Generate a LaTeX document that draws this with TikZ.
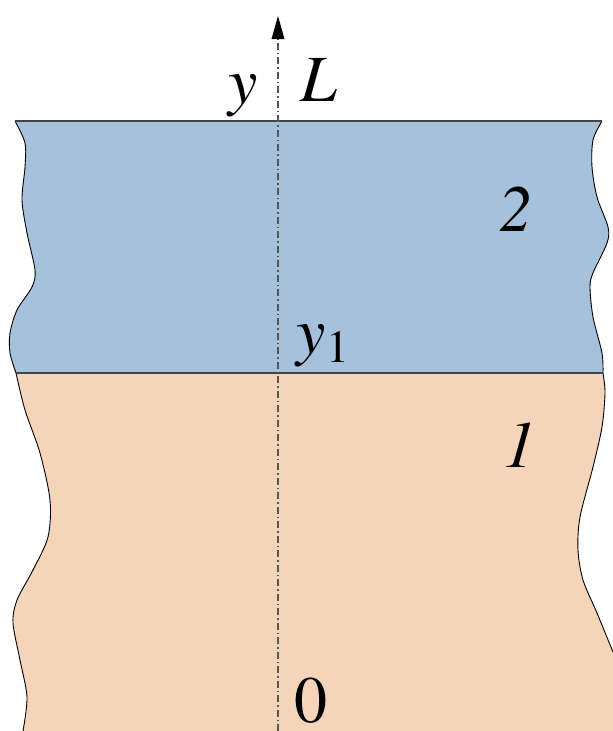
\documentclass[tikz,border=0pt]{standalone}
\usepackage{fontspec}
\setmainfont{texgyretermes}[Extension=.otf, UprightFont=*-regular, ItalicFont=*-italic, BoldFont=*-bold, BoldItalicFont=*-bolditalic]
\usetikzlibrary{arrows.meta}
\definecolor{layerblue}{HTML}{A6C1DB}
\definecolor{layerpeach}{HTML}{F5D5B9}
\definecolor{axisgray}{HTML}{555555}
\tikzset{
  lbl/.style={inner sep=0pt, anchor=base west, font=\rmfamily\fontsize{66}{66}\selectfont},
  edge/.style={draw=black, line width=0.9pt},
  iface/.style={draw=axisgray!80!black, line width=1.6pt},
  axisline/.style={draw=axisgray, line width=1.2pt, dash pattern=on 7pt off 3pt on 1.5pt off 3pt},
}
\begin{document}
\begin{tikzpicture}[x=1pt,y=-1pt]
\useasboundingbox (0,0) rectangle (613,731);
% layer 2 (blue)
\fill[layerblue] plot[smooth] coordinates {(602,121) (593,140) (592,167) (597,197) (608,227) (607,243) (593,273) (590,287) (593,317) (602,353) (603,373)}
  -- plot[smooth] coordinates {(16,373) (10,353) (10,333) (17,310) (32,287) (35,270) (27,233) (22,200) (25,167) (25,143) (15,121)} -- cycle;
% layer 1 (peach)
\fill[layerpeach] plot[smooth] coordinates {(603,373) (605,393) (602,427) (593,467) (580,517) (578,550) (583,580) (597,613) (613,652)}
  -- (613,731) -- plot[smooth] coordinates {(23,731) (27,697) (20,660) (13,623) (17,600) (33,570) (48,537) (50,500) (40,453) (25,410) (16,373)} -- cycle;
% wavy edges
\draw[edge] plot[smooth] coordinates {(602,121) (593,140) (592,167) (597,197) (608,227) (607,243) (593,273) (590,287) (593,317) (602,353) (603,373)};
\draw[edge] plot[smooth] coordinates {(16,373) (10,353) (10,333) (17,310) (32,287) (35,270) (27,233) (22,200) (25,167) (25,143) (15,121)};
\draw[edge] plot[smooth] coordinates {(603,373) (605,393) (602,427) (593,467) (580,517) (578,550) (583,580) (597,613) (613,652)};
\draw[edge] plot[smooth] coordinates {(23,731) (27,697) (20,660) (13,623) (17,600) (33,570) (48,537) (50,500) (40,453) (25,410) (16,373)};
% top and interface lines
\coordinate (tl) at (15,121);
\coordinate (tr) at (602,121);
\coordinate (il) at (16,373);
\coordinate (ir) at (603,373);
\draw[iface] (tl) -- (tr);
\draw[iface] (il) -- (ir);
% axis
\coordinate (axb) at (278,731);
\coordinate (axs) at (278,39);
\coordinate (axt) at (278,16);
\draw[axisline] (axb) -- (axs);
\fill[black] (axt) -- ([xshift=-6.5pt]axs) -- ([xshift=6.5pt]axs) -- cycle;
% labels
\node[lbl] (ly) at (228,103) {\itshape y};
\node[lbl] (lL) at (300,101) {\itshape L};
\node[lbl] (l2) at (499,231) {\itshape 2};
\node[lbl] (l1) at (503,467) {\itshape 1};
\node[lbl] (ly1) at (296,353) {\itshape y\kern1pt\raisebox{-9pt}{\fontsize{46}{46}\selectfont\upshape 1}};
\node[lbl] (l0) at (294,722) {0};
\end{tikzpicture}
\end{document}
